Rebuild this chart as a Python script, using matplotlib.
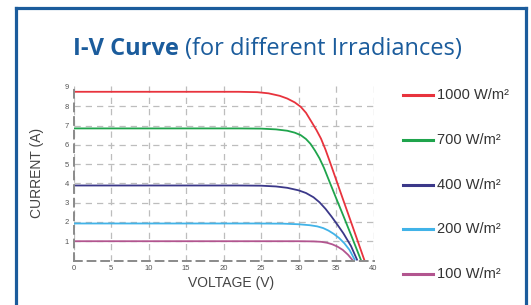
import matplotlib
matplotlib.use("Agg")
import matplotlib.pyplot as plt
from matplotlib.lines import Line2D

# I-V curves, one pair of lists per irradiance
v_1000 = [0, 22, 24.5, 26, 27.5, 28.5, 29.5, 30.3, 31, 31.8, 32.4, 33, 33.6, 34.2, 35.1, 36, 37, 38, 38.8]
i_1000 = [8.75, 8.75, 8.73, 8.67, 8.54, 8.4, 8.2, 7.97, 7.66, 7.15, 6.76, 6.32, 5.75, 5.1, 4.1, 3.1, 2.0, 0.89, 0]

v_700 = [0, 22, 25, 27, 28.5, 29.5, 30.3, 31, 31.6, 32.2, 32.8, 33.4, 34.1, 35, 36, 37, 38.35]
i_700 = [6.85, 6.85, 6.84, 6.8, 6.73, 6.63, 6.5, 6.3, 6.05, 5.7, 5.3, 4.8, 4.12, 3.25, 2.3, 1.33, 0]

v_400 = [0, 22, 25, 27, 28.5, 30, 31, 32, 32.8, 33.6, 34.4, 35.2, 36, 37, 37.85]
i_400 = [3.89, 3.89, 3.88, 3.84, 3.77, 3.64, 3.5, 3.28, 3.02, 2.68, 2.28, 1.85, 1.4, 0.75, 0]

v_200 = [0, 24, 28, 30, 31.5, 32.5, 33.3, 34, 34.7, 35.4, 36.1, 36.8, 37.55]
i_200 = [1.92, 1.92, 1.91, 1.88, 1.83, 1.77, 1.68, 1.55, 1.38, 1.17, 0.9, 0.55, 0]

v_100 = [0, 30, 32, 33, 33.8, 34.5, 35.2, 35.9, 36.6, 37.25]
i_100 = [1.0, 1.0, 0.99, 0.97, 0.92, 0.84, 0.72, 0.55, 0.3, 0]

labels = ["1000 W/m²", "700 W/m²", "400 W/m²", "200 W/m²", "100 W/m²"]
colors = ["#e8333d", "#1fa44c", "#3b3889", "#41b3e8", "#b2558f"]
curves = [(v_1000, i_1000), (v_700, i_700), (v_400, i_400), (v_200, i_200), (v_100, i_100)]

x_ticks = [0, 5, 10, 15, 20, 25, 30, 35, 40]
y_ticks = [1, 2, 3, 4, 5, 6, 7, 8, 9]

W, H = 531, 305
fig = plt.figure(figsize=(W / 100, H / 100), dpi=100)
fig.patch.set_facecolor("white")

# blue frame (open at the bottom)
frame = "#1b5c9c"
fx0, fx1, fy1 = 16 / W, 526 / W, 1 - 8 / H
for xs, ys in [([fx0, fx0], [-0.05, fy1]), ([fx0, fx1], [fy1, fy1]), ([fx1, fx1], [fy1, -0.05])]:
    fig.add_artist(Line2D(xs, ys, transform=fig.transFigure, color=frame, lw=2.3))

ax = fig.add_axes([73.5 / W, (H - 260.5) / H, 300 / W, 174.5 / H])

# title: bold part then regular part
t1 = fig.text(73 / W, 1 - 61 / H, "I-V Curve ", fontsize=17, fontweight="bold",
              color=frame, family="Open Sans", va="bottom", ha="left")
ax.annotate("(for different Irradiances)", xy=(1, 0), xycoords=t1, va="bottom", ha="left",
            fontsize=17, color=frame, family="Open Sans", annotation_clip=False)

for (v, i), c in zip(curves, colors):
    ax.plot(v, i, color=c, lw=1.3, solid_capstyle="butt")

ax.set_xlim(0, 40)
ax.set_ylim(0, 9.05)
ax.set_xticks(x_ticks)
ax.set_yticks(y_ticks)
ax.tick_params(length=0, labelsize=5.5, labelcolor="#555555", pad=3.5)
for lab in ax.get_xticklabels() + ax.get_yticklabels():
    lab.set_family("Liberation Sans")
ax.grid(True, color="#bdbdbd", lw=0.9, linestyle=(0, (5, 4)))
ax.get_ygridlines()[-1].set_visible(False)
ax.set_axisbelow(True)
for s in ["top", "right"]:
    ax.spines[s].set_visible(False)
for s in ["left", "bottom"]:
    ax.spines[s].set_color("#8a8a8a")
    ax.spines[s].set_linewidth(1.4)
    ax.spines[s].set_linestyle((0, (4, 3)))

ax.set_ylabel("CURRENT (A)", fontsize=10, color="#444444", family="Liberation Sans")
ax.set_xlabel("VOLTAGE (V)", fontsize=10, color="#444444", family="Liberation Sans")
ax.yaxis.set_label_coords(-0.1, 0.5)
ax.xaxis.set_label_coords(0.525, -0.09)

# legend on the right
for k, (lab, c) in enumerate(zip(labels, colors)):
    yf = 1 - (95 + 44.8 * k) / H
    fig.add_artist(Line2D([403 / W, 433 / W], [yf, yf], transform=fig.transFigure, color=c, lw=2.2))
    fig.text(437 / W, yf, lab, fontsize=10.5, color="#333333", family="Liberation Sans",
             va="center", ha="left")

fig.savefig("out.png", dpi=100)
